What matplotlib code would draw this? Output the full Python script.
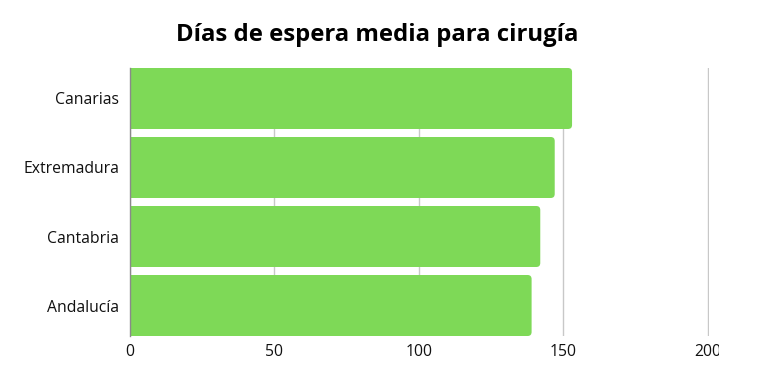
import matplotlib
matplotlib.use("Agg")
import matplotlib.pyplot as plt
from matplotlib.patches import FancyBboxPatch, Rectangle

# datos (de arriba a abajo)
regiones = ["Canarias", "Extremadura", "Cantabria", "Andalucía"]
dias = [153, 147, 142, 139]
ticks_x = [0, 50, 100, 150, 200]

verde = "#7ed957"

plt.rcParams["font.family"] = ["Open Sans", "DejaVu Sans"]

fig = plt.figure(figsize=(7.66, 3.8), dpi=100)
ax = fig.add_axes([130 / 766, 1 - 336 / 380, 579 / 766, 268 / 380])

pos = list(range(len(regiones)))[::-1]
alto = 0.884
barras = ax.barh(pos, dias, height=alto, color=verde)

ax.set_xlim(0, 200.4)
ax.set_ylim(-alto / 2, len(regiones) - 1 + alto / 2)

# esquinas redondeadas a la derecha
sx = 579 / 200
sy = 268 / (len(regiones) - 1 + alto)
r = 4 / sx
for b in barras:
    x0, y0 = b.get_x(), b.get_y()
    w, h = b.get_width(), b.get_height()
    b.set_visible(False)
    p = FancyBboxPatch((x0 - 5, y0), w + 5, h,
                       boxstyle="round,pad=0,rounding_size=%f" % r,
                       mutation_aspect=(4 / sy) / r,
                       facecolor=verde, edgecolor="none", zorder=3)
    ax.add_patch(p)
    p.set_clip_path(ax.patch)

ax.set_xticks(ticks_x)
ax.set_yticks(pos)
ax.set_yticklabels(regiones)
ax.tick_params(length=0, labelsize=11.3, colors="#111111")
ax.tick_params(axis="y", pad=8)
ax.tick_params(axis="x", pad=6)

ax.grid(axis="x", color="#c8c8c8", linewidth=1)
ax.set_axisbelow(True)
for s in ["top", "right", "bottom"]:
    ax.spines[s].set_visible(False)
ax.spines["left"].set_color("#8a8a8a")
ax.spines["left"].set_linewidth(1)
ax.spines["left"].set_zorder(4)

fig.text(377 / 766, 1 - 35 / 380, "Días de espera media para cirugía",
         ha="center", va="center", fontsize=17.2, fontweight="bold")

# el "200" aparece recortado en la imagen original
ult = ax.xaxis.get_major_ticks()[-1].label1
ult.set_clip_path(Rectangle((0, 0), 719 / 766, 1, transform=fig.transFigure))
ult.set_clip_on(True)

fig.savefig("out.png", dpi=100, facecolor="white")
